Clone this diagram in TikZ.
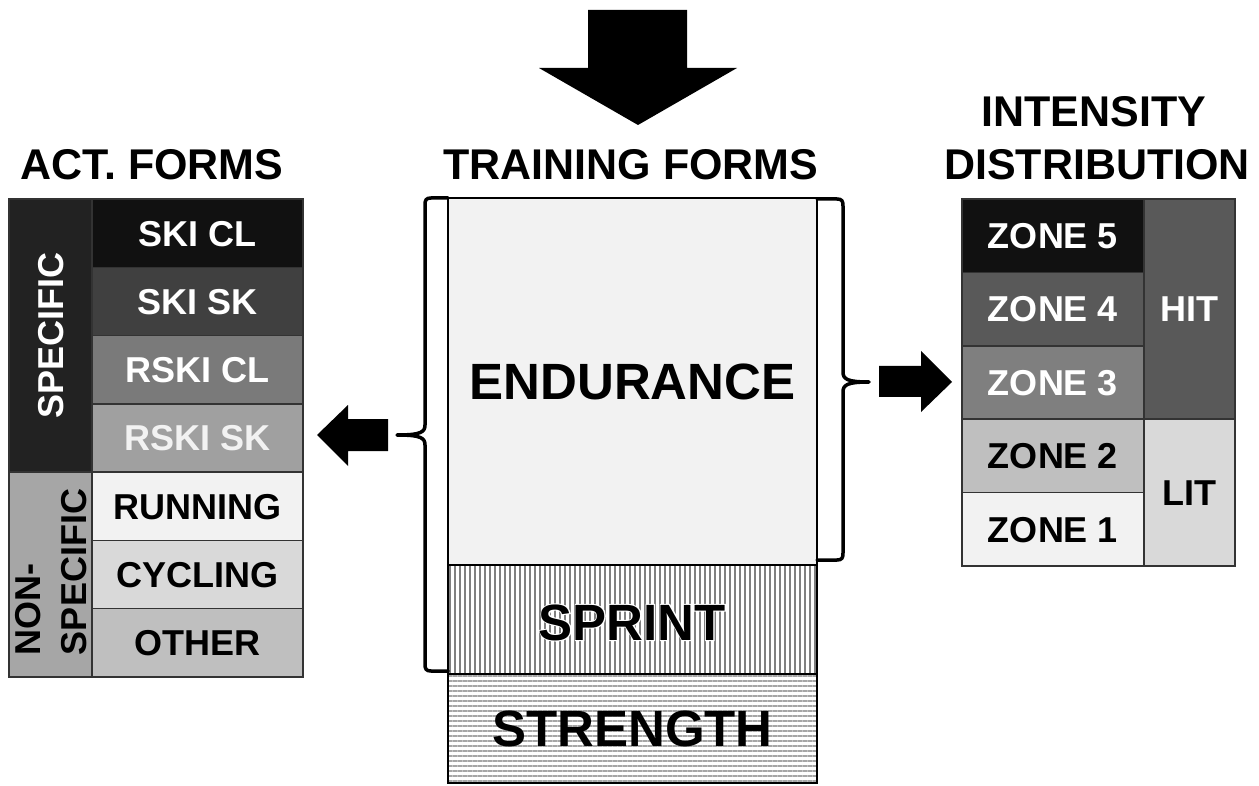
\documentclass[tikz,border=0pt]{standalone}
\usepackage{fontspec}
\setmainfont{Liberation Sans}
\newfontfamily\halofont[FakeBold=4]{Liberation Sans Bold}
\usetikzlibrary{patterns.meta}
\definecolor{cA}{HTML}{111111}
\definecolor{cB}{HTML}{404040}
\definecolor{cC}{HTML}{7A7A7A}
\definecolor{cD}{HTML}{A0A0A0}
\definecolor{cE}{HTML}{F2F2F2}
\definecolor{cF}{HTML}{D9D9D9}
\definecolor{cG}{HTML}{BFBFBF}
\definecolor{cH}{HTML}{222222}
\definecolor{cI}{HTML}{A6A6A6}
\definecolor{cZ}{HTML}{595959}
\definecolor{cY}{HTML}{7F7F7F}
\begin{document}
\begin{tikzpicture}[x=1pt,y=-1pt,
  ttl/.style={font=\fontsize{43}{48}\selectfont\bfseries, inner sep=0pt, anchor=base},
  cell/.style={draw=black!80, line width=1.5pt, inner sep=0pt, text height=25.8pt, text depth=0pt,
    font=\fontsize{36}{40}\selectfont\bfseries},
  big/.style={draw=black, line width=2.5pt, inner sep=0pt, minimum width=369pt, text height=36.5pt, text depth=0pt,
    font=\fontsize{51}{56}\selectfont\bfseries},
  brk/.style={line width=3.5pt, line cap=round, line join=round},
  blk/.style={fill=black}
]
\useasboundingbox (0,0) rectangle (1259,786);
\fill[white] (0,0) rectangle (1259,786);

% titles
\node[ttl] (t1) at (152,180) {ACT. FORMS};
\node[ttl] (t2) at (631,180) {TRAINING FORMS};
\node[ttl] (t3a) at (1094,127) {INTENSITY};
\node[ttl] (t3b) at (1097,180) {DISTRIBUTION};

% top arrow
\fill[blk] (588,10) -- (687,10) -- (687,68) -- (737,68) -- (638,125) -- (539,68) -- (588,68) -- cycle;

% left table
\begin{scope}[every node/.append style={minimum width=211pt, minimum height=68.29pt}]
\node[cell, fill=cA, text=white] (skicl) at (197.5,233.14) {SKI CL};
\node[cell, fill=cB, text=white] (skisk) at (197.5,301.43) {SKI SK};
\node[cell, fill=cC, text=white] (rskicl) at (197.5,369.71) {RSKI CL};
\node[cell, fill=cD, text=cE] (rskisk) at (197.5,438.00) {RSKI SK};
\node[cell, fill=cE, text=black] (run) at (197.5,506.29) {RUNNING};
\node[cell, fill=cF, text=black] (cyc) at (197.5,574.57) {CYCLING};
\node[cell, fill=cG, text=black] (oth) at (197.5,642.86) {OTHER};
\end{scope}
\node[cell, fill=cH, text=white, rotate=90, minimum width=273.14pt, minimum height=83pt] (spec) at (50.5,335.57) {SPECIFIC};
\node[cell, fill=cI, minimum width=83pt, minimum height=204.86pt] (nspec) at (50.5,574.57) {};
\node[font=\fontsize{36}{46}\selectfont\bfseries, inner sep=0pt, rotate=90, align=left] (nspect) at (51,572) {NON-\\SPECIFIC};

% right table
\begin{scope}[every node/.append style={minimum width=182pt, minimum height=73.4pt}]
\node[cell, fill=cA, text=white] (z5) at (1053,235.7) {ZONE 5};
\node[cell, fill=cZ, text=white] (z4) at (1053,309.1) {ZONE 4};
\node[cell, fill=cY, text=white] (z3) at (1053,382.5) {ZONE 3};
\node[cell, fill=cG, text=black] (z2) at (1053,455.9) {ZONE 2};
\node[cell, fill=cE, text=black] (z1) at (1053,529.3) {ZONE 1};
\end{scope}
\node[cell, fill=cZ, text=white, minimum width=91pt, minimum height=220.2pt] (hit) at (1189.5,309.1) {HIT};
\node[cell, fill=cF, text=black, minimum width=91pt, minimum height=146.8pt] (lit) at (1189.5,492.6) {LIT};

% central boxes
\node[big, fill=cE, minimum height=367pt] (endu) at (632.5,381.5) {ENDURANCE};
\node[big, minimum height=109pt, preaction={fill=white},
  pattern={Lines[angle=90,distance=5pt,line width=2.4pt]}, pattern color=black!50] (sprbox) at (632.5,619.5) {};
\node[font=\fontsize{51}{56}\halofont, inner sep=0pt, text=white, anchor=base] (sprhalo) at (632,640) {SPRINT};
\node[font=\fontsize{51}{56}\selectfont\bfseries, inner sep=0pt, anchor=base] (sprint) at (632,640) {SPRINT};
\node[big, minimum height=109pt, preaction={fill=white},
  pattern={Lines[angle=0,distance=5pt,line width=2.4pt]}, pattern color=black!35] (stren) at (632.5,728.5) {STRENGTH};

% brackets
\draw[brk] (448,198) -- (431,198) .. controls (426,198) and (425,200) .. (425,205)
  -- (425,425) .. controls (425,432) and (421,435) .. (397,435)
  .. controls (421,435) and (425,438) .. (425,445)
  -- (425,664) .. controls (425,669) and (426,671) .. (431,671) -- (448,671);
\draw[brk] (817,199) -- (837,199) .. controls (842,199) and (843,201) .. (843,206)
  -- (843,372) .. controls (843,379) and (847,382) .. (869,382)
  .. controls (847,382) and (843,385) .. (843,392)
  -- (843,553) .. controls (843,558) and (842,560) .. (837,560) -- (817,560);

% side arrows
\fill[blk] (388,419) -- (348,419) -- (348,405) -- (317,435) -- (348,466) -- (348,451) -- (388,451) -- cycle;
\fill[blk] (879,366) -- (921,366) -- (921,351) -- (952,382) -- (921,412) -- (921,397) -- (879,397) -- cycle;
\end{tikzpicture}
\end{document}
